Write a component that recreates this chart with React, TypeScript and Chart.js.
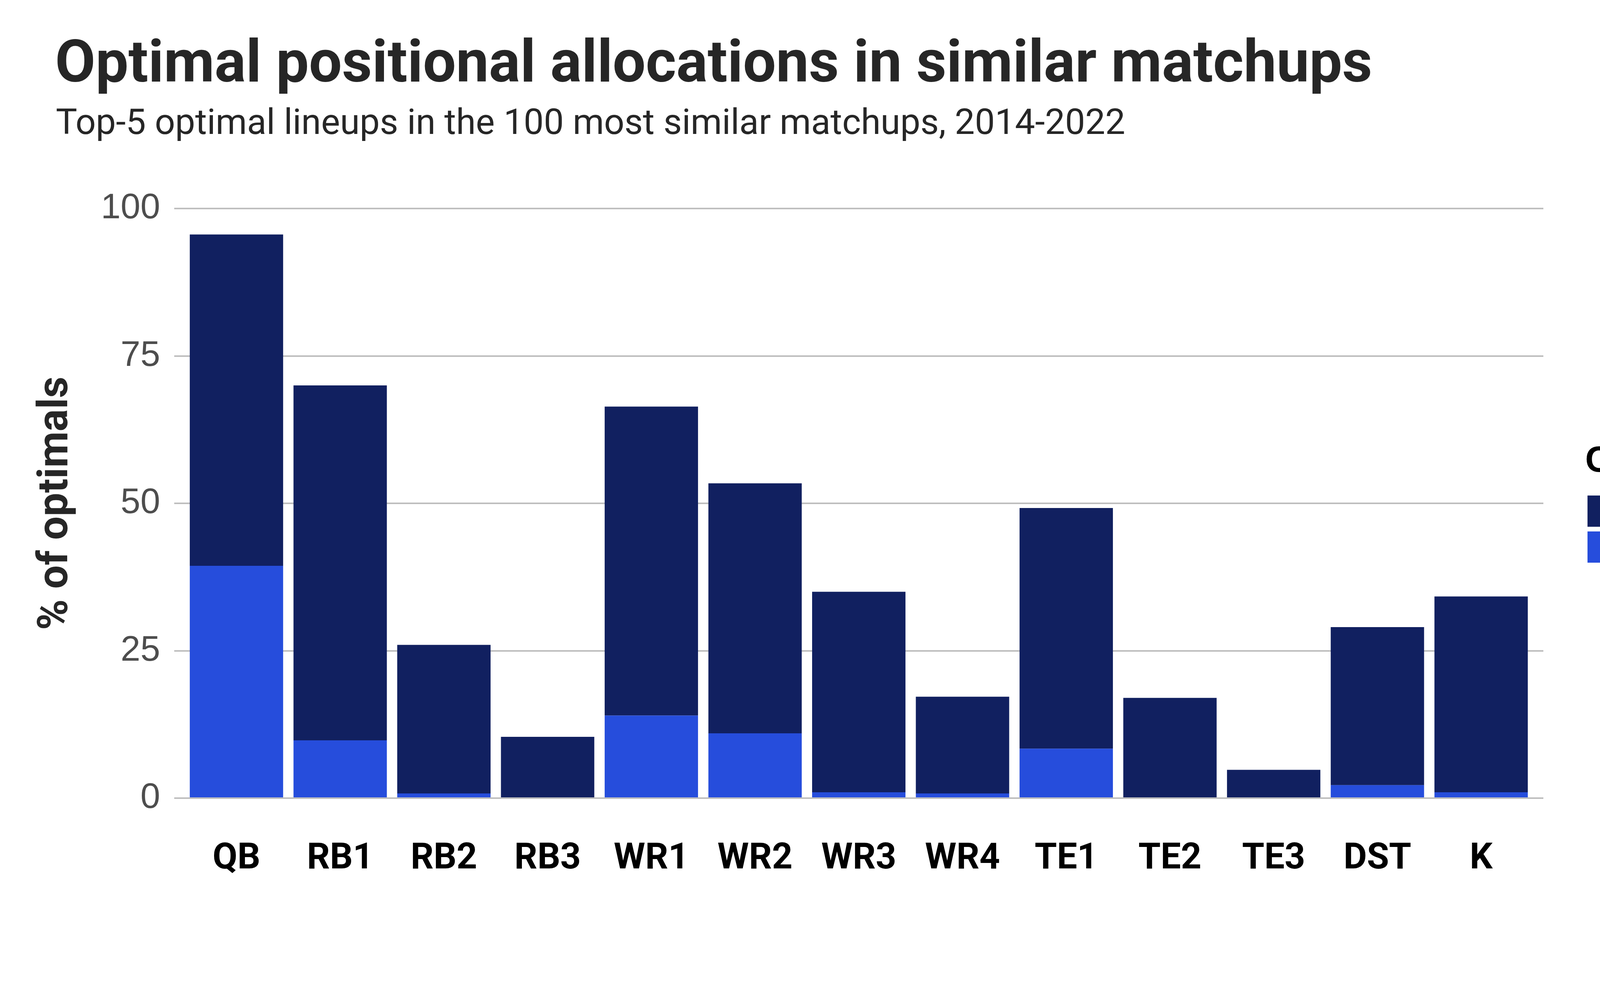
import React, { useEffect, useRef } from 'react';
import { Chart, registerables } from 'chart.js';

Chart.register(...registerables);

// ---- data ----
const categories = ['QB', 'RB1', 'RB2', 'RB3', 'WR1', 'WR2', 'WR3', 'WR4', 'TE1', 'TE2', 'TE3', 'DST', 'K'];
const countOne = [56.2, 60.2, 25.2, 10.4, 52.4, 42.4, 34.0, 16.4, 40.8, 17.0, 4.8, 26.8, 33.2];
const countTwo = [39.4, 9.8, 0.8, 0, 14.0, 11.0, 1.0, 0.8, 8.4, 0, 0, 2.2, 1.0];
const seriesLabels = ['1', '2'];
const seriesColors = ['#112060', '#264ddc'];
const yTicks = [0, 25, 50, 75, 100];
const titleText = 'Optimal positional allocations in similar matchups';
const subtitleText = 'Top-5 optimal lineups in the 100 most similar matchups, 2014-2022';
const yAxisTitle = '% of optimals';
const legendTitle = 'Count';

const W = 4500;
const H = 2520;

const textLayer = {
  id: 'textLayer',
  afterDraw(chart: any) {
    const ctx = chart.ctx as CanvasRenderingContext2D;
    const area = chart.chartArea;
    ctx.save();
    ctx.textAlign = 'left';
    ctx.textBaseline = 'alphabetic';
    ctx.fillStyle = '#262626';
    ctx.font = 'bold 150px Roboto';
    ctx.fillText(titleText, 141, 209);
    ctx.font = '91.5px Roboto';
    ctx.fillText(subtitleText, 143, 343);
    ctx.restore();

    // y axis title
    ctx.save();
    ctx.translate(172, (area.top + area.bottom) / 2);
    ctx.rotate(-Math.PI / 2);
    ctx.textAlign = 'center';
    ctx.textBaseline = 'alphabetic';
    ctx.fillStyle = '#262626';
    ctx.font = 'bold 107px Roboto';
    ctx.fillText(yAxisTitle, 0, 0);
    ctx.restore();

    // legend
    ctx.save();
    ctx.textAlign = 'left';
    ctx.textBaseline = 'alphabetic';
    ctx.fillStyle = '#000000';
    ctx.font = 'bold 93px "Liberation Sans"';
    ctx.fillText(legendTitle, 4058, 1208);
    const items = chart.data.datasets
      .map((d: any) => ({ label: d.label, color: d.backgroundColor }))
      .sort((a: any, b: any) => (a.label < b.label ? -1 : 1));
    items.forEach((it: any, i: number) => {
      const y0 = 1269 + i * 92;
      ctx.fillStyle = it.color;
      ctx.fillRect(4064, y0, 71, 80);
      ctx.fillStyle = '#4d4d4d';
      ctx.font = '100px "Liberation Sans"';
      ctx.fillText(it.label, 4185, y0 + 76);
    });
    ctx.restore();
  },
};

export default function App() {
  const ref = useRef<HTMLCanvasElement | null>(null);

  useEffect(() => {
    if (!ref.current) return;
    const toPoints = (vals: number[]) => vals.map((v, i) => ({ x: i + 1, y: v }));
    const chart = new Chart(ref.current, {
      type: 'bar',
      data: {
        datasets: [
          {
            label: seriesLabels[1],
            data: toPoints(countTwo),
            backgroundColor: seriesColors[1],
            borderWidth: 0,
            barPercentage: 0.9,
            categoryPercentage: 1,
          },
          {
            label: seriesLabels[0],
            data: toPoints(countOne),
            backgroundColor: seriesColors[0],
            borderWidth: 0,
            barPercentage: 0.9,
            categoryPercentage: 1,
          },
        ],
      },
      options: {
        animation: false,
        responsive: false,
        devicePixelRatio: 1,
        layout: { padding: { left: 0, top: 534, right: 549, bottom: 0 } },
        plugins: {
          legend: { display: false },
          tooltip: { enabled: false },
          title: { display: false },
        },
        scales: {
          x: {
            type: 'linear',
            stacked: true,
            min: 0.4,
            max: 13.6,
            offset: false,
            grid: { display: false },
            border: { display: false },
            afterBuildTicks: (axis: any) => {
              axis.ticks = categories.map((_, i) => ({ value: i + 1 }));
            },
            afterFit: (axis: any) => {
              axis.height = H - 2044;
            },
            ticks: {
              autoSkip: false,
              maxRotation: 0,
              minRotation: 0,
              padding: 94,
              color: '#000000',
              font: { family: 'Roboto', weight: 'bold', size: 92 },
              callback: (v: any) => categories[Math.round(Number(v)) - 1] ?? '',
            },
          },
          y: {
            type: 'linear',
            stacked: true,
            min: 0,
            max: 100,
            grid: { color: '#bebebe', lineWidth: 4, drawTicks: false },
            border: { display: false },
            afterBuildTicks: (axis: any) => {
              axis.ticks = yTicks.map((v) => ({ value: v }));
            },
            afterFit: (axis: any) => {
              axis.width = 446;
            },
            ticks: {
              padding: 36,
              color: '#4d4d4d',
              font: { family: 'Liberation Sans', size: 91 },
            },
          },
        },
      } as any,
      plugins: [textLayer],
    });
    return () => chart.destroy();
  }, []);

  return (
    <div style={{ position: 'absolute', left: 0, top: 0, width: W, height: H, background: '#ffffff' }}>
      <canvas ref={ref} width={W} height={H} style={{ width: W, height: H, display: 'block' }} />
    </div>
  );
}
